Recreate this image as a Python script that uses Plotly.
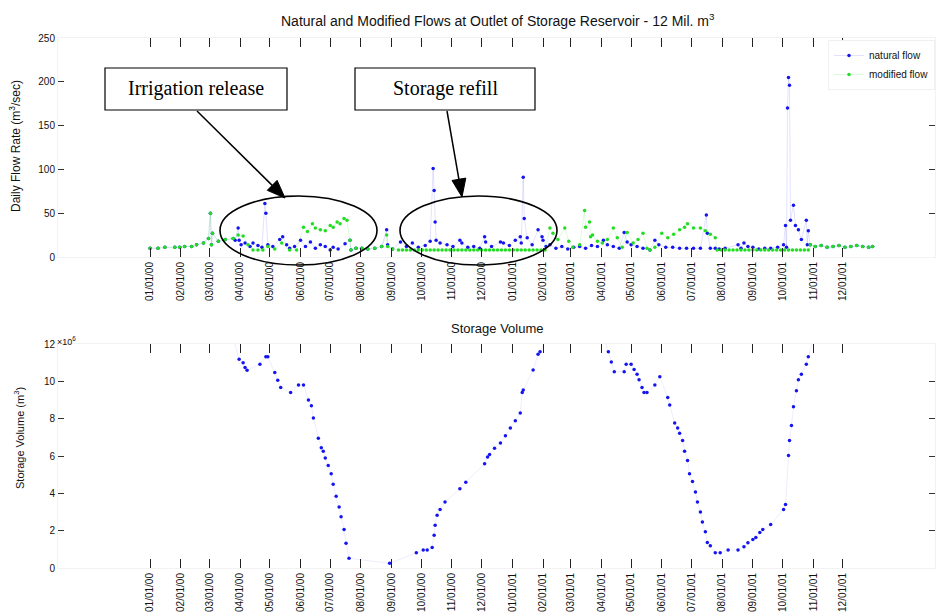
import math
import pandas as pd
import plotly.graph_objects as go

# ---------------- data (day offsets from 2000-01-01) ----------------
base_date = "2000-01-01"

mod_days = [0, 8, 15, 25, 30, 35, 42, 47, 54, 59, 61, 62, 63, 69, 76, 84, 89, 94, 99,
            104, 109, 114, 119, 126, 133, 141, 148, 155, 159, 164, 167, 172, 177, 182,
            185, 189, 192, 196, 199, 202, 203, 208, 214, 220, 227, 234, 239, 240, 245,
            251, 255, 259, 263, 267, 271, 275, 279, 283, 287, 291, 295, 299, 303, 307,
            311, 315, 319, 323, 327, 331, 335, 339, 343, 347, 351, 355, 359, 363, 367,
            371, 375, 379, 383, 387, 391, 395, 399,
            404, 407, 412, 419, 423, 427, 434, 439, 440, 444, 445, 447, 452, 457, 462,
            468, 472, 477, 482, 488, 493, 498, 502, 505, 510, 517, 523, 529, 535, 540,
            543, 549, 556, 561, 566, 571,
            573, 577, 581, 585, 589, 593, 597, 601, 605, 609, 613, 617, 621, 625, 629,
            633, 637, 641, 645, 649, 653, 657, 661, 665,
            667, 672, 678, 684, 690, 696, 702, 708, 714, 720, 726, 730]
mod_flow = [10, 10, 11, 11, 11, 12, 12, 14, 16, 21, 50, 14, 27, 18, 20, 21, 25, 24, 14,
            8, 8, 8, 12, 9, 16, 8, 8, 34, 29, 38, 33, 31, 30, 36,
            34, 40, 38, 44, 42, 19, 8, 10, 10, 9, 10, 12, 25, 12, 9,
            8, 8, 8, 8, 8, 8, 8, 8, 8, 8, 8, 8, 8, 8, 8,
            8, 8, 8, 8, 8, 8, 8, 8, 8, 8, 8, 8, 8, 8, 8,
            8, 8, 8, 8, 8, 8, 8, 8,
            33, 27, 20, 33, 18, 11, 14, 53, 34, 40, 23, 25, 18, 16, 20,
            33, 22, 11, 28, 16, 20, 27, 10, 8, 11, 27, 22, 26, 31, 34,
            38, 33, 33, 30, 26, 22,
            8, 8, 8, 8, 8, 8, 8, 8, 8, 8, 8, 8, 8, 8, 8,
            8, 8, 8, 8, 8, 8, 8, 8, 8,
            14, 12, 13, 11, 12, 13, 11, 12, 13, 12, 11, 12]

nat_days = [0, 8, 15, 25, 30, 35, 42, 47, 54, 59, 61, 62, 63, 69, 76, 84,
            86, 89, 90, 92, 96, 101, 104, 109, 113, 116, 117, 119, 124, 131, 134, 138,
            141, 146, 152, 157, 162, 167, 172, 177, 182, 185, 190, 197, 202,
            203, 208, 214, 220, 227, 234, 239, 240, 245,
            253, 259, 265, 271, 278, 283, 286, 287, 288, 289, 293, 300, 306, 313, 315,
            321, 327, 333, 338, 339, 345, 354, 357, 363, 369, 374, 375, 377, 378, 381,
            386, 392, 396, 397, 400,
            404, 410, 416, 422, 428, 434, 440, 446, 452, 458, 462, 468, 474, 479, 482,
            486, 492, 498, 505, 510, 514, 521, 528, 535, 542, 549, 556, 562, 563, 566, 571,
            575, 581, 594, 597, 600, 604, 609, 615, 621, 627, 634, 640, 642, 643, 644,
            645, 646, 647, 650, 652, 655, 658, 663, 664, 665,
            667, 672, 678, 684, 690, 696, 702, 708, 714, 720, 726, 730]
nat_flow = [10, 10, 11, 11, 11, 12, 12, 14, 16, 21, 50, 14, 27, 18, 20, 21,
            19, 33, 19, 14, 16, 12, 16, 13, 11, 61, 50, 14, 12, 20, 23, 14,
            10, 12, 19, 12, 17, 10, 14, 12, 8, 11, 9, 15, 19,
            8, 10, 10, 9, 10, 12, 31, 14, 9,
            17, 12, 16, 11, 13, 18, 101, 76, 40, 19, 16, 14, 12, 19, 16,
            11, 12, 10, 23, 17, 12, 17, 16, 13, 19, 23, 16, 91, 44, 22,
            14, 31, 23, 19, 12,
            14, 10, 12, 9, 11, 12, 10, 13, 12, 19, 14, 12, 10, 28, 17,
            14, 12, 10, 8, 19, 14, 11, 11, 10, 10, 10, 10, 48, 27, 10, 10,
            9, 10, 14, 10, 16, 12, 11, 9, 10, 10, 11, 14, 36, 11, 170,
            205, 196, 42, 59, 36, 31, 20, 42, 14, 30,
            14, 12, 13, 11, 12, 13, 11, 12, 13, 12, 11, 12]

# storage volume (million m3); values just above 12 are the full reservoir (off-scale)
sto_days = [80, 85, 90, 94, 96, 98, 111, 117, 119, 126, 129, 132, 142, 150, 155, 160,
            163, 165, 170, 173, 175, 177, 180, 183, 185, 188, 191, 193, 196, 198, 201,
            242, 269, 276, 280, 285, 287, 288, 290, 293, 298, 313, 319,
            338, 341, 343, 348, 354, 359, 364, 369, 374, 376, 377, 387, 392, 394, 399,
            429, 460, 463, 466, 469, 479, 481, 486, 489, 492, 494, 497, 499, 502, 510,
            515, 523, 525, 530, 533, 535, 538, 540, 543, 545, 548, 551, 553, 556, 558,
            561, 563, 566, 571, 576, 584, 594, 600, 604, 609, 612, 616, 619, 627, 640,
            642, 645, 646, 648, 650, 653, 655, 658, 663, 665, 669]
sto_vol = [12.1, 12.1, 11.18, 11.0, 10.74, 10.6, 10.92, 11.32, 11.32, 10.47, 10.06, 9.67,
           9.4, 9.81, 9.81, 9.0, 8.69, 8.04, 6.95, 6.44, 6.26, 5.89, 5.49, 5.05, 4.48,
           3.84, 3.27, 2.74, 2.06, 1.32, 0.52, 0.25, 0.82, 0.96, 0.96,
           1.1, 1.76, 2.29, 2.83, 3.13, 3.54, 4.25, 4.6, 5.58, 5.94, 6.08, 6.42, 6.69,
           7.08, 7.5, 7.89, 8.3, 9.4, 9.53, 10.61, 11.45, 11.59, 12.1, 12.1, 12.1, 11.59,
           11.04, 10.51, 10.51, 10.92, 10.92, 10.63, 10.38, 10.08, 9.67, 9.4, 9.4, 9.81,
           10.24, 9.14, 8.73, 7.77, 7.5, 7.22, 6.83, 6.26, 5.76, 5.05, 4.64, 4.07, 3.54,
           3.0, 2.47, 1.94, 1.37, 1.19, 0.82, 0.82, 0.96, 0.96, 1.14, 1.35, 1.53, 1.64,
           1.9, 2.06, 2.33, 3.13, 3.4, 6.03, 6.83, 7.63, 8.64, 9.49, 10.08, 10.38, 10.92,
           11.32, 12.1]

tick_dates = ["2000-01-01", "2000-02-01", "2000-03-01", "2000-04-01", "2000-05-01",
              "2000-06-01", "2000-07-01", "2000-08-01", "2000-09-01", "2000-10-01",
              "2000-11-01", "2000-12-01", "2001-01-01", "2001-02-01", "2001-03-01",
              "2001-04-01", "2001-05-01", "2001-06-01", "2001-07-01", "2001-08-01",
              "2001-09-01", "2001-10-01", "2001-11-01", "2001-12-01"]
tick_labels = ["01/01/00", "02/01/00", "03/01/00", "04/01/00", "05/01/00", "06/01/00",
               "07/01/00", "08/01/00", "09/01/00", "10/01/00", "11/01/00", "12/01/00",
               "01/01/01", "02/01/01", "03/01/01", "04/01/01", "05/01/01", "06/01/01",
               "07/01/01", "08/01/01", "09/01/01", "10/01/01", "11/01/01", "12/01/01"]

flow_ticks = [0, 50, 100, 150, 200, 250]
sto_ticks = [0, 2, 4, 6, 8, 10, 12]


def to_dates(days):
    return pd.Timestamp(base_date) + pd.to_timedelta(days, unit="D")


W, H = 938, 616
def xp(px):
    return px / W
def yp(py):
    return 1 - py / H

BLUE = "#1414f0"
GREEN = "#22dd22"

fig = go.Figure()
fig.add_trace(go.Scatter(x=to_dates(nat_days), y=nat_flow, mode="lines+markers",
                         name="natural flow",
                         line=dict(color="rgba(20,20,240,0.12)", width=1),
                         marker=dict(color=BLUE, size=3.5),
                         xaxis="x", yaxis="y"))
fig.add_trace(go.Scatter(x=to_dates(mod_days), y=mod_flow, mode="lines+markers",
                         name="modified flow",
                         line=dict(color="rgba(30,220,30,0.15)", width=1),
                         marker=dict(color=GREEN, size=3.5),
                         xaxis="x", yaxis="y"))
fig.add_trace(go.Scatter(x=to_dates(sto_days), y=sto_vol, mode="lines+markers",
                         showlegend=False,
                         line=dict(color="rgba(20,20,240,0.08)", width=1),
                         marker=dict(color=BLUE, size=3.5),
                         xaxis="x2", yaxis="y2"))

xrange = ["1999-09-30", "2002-03-04"]
common_x = dict(type="date", range=xrange, tickvals=tick_dates, ticktext=tick_labels,
                tickangle=-90, ticks="inside", ticklen=9, tickcolor="#222",
                showline=True, linecolor="#f2f2f2", mirror="ticks", showgrid=False,
                zeroline=False, automargin=False,
                tickfont=dict(family="Liberation Sans", size=10, color="#111"))
common_y = dict(ticks="inside", ticklen=6, tickcolor="#333", showline=True,
                linecolor="#f2f2f2", mirror="ticks", showgrid=False, zeroline=False,
                automargin=False,
                tickfont=dict(family="Liberation Sans", size=10, color="#111"))

fig.update_layout(
    width=W, height=H, margin=dict(l=0, r=0, t=0, b=0),
    paper_bgcolor="white", plot_bgcolor="white",
    xaxis=dict(domain=[xp(58), xp(935)], anchor="y", **common_x),
    yaxis=dict(domain=[yp(257), yp(38)], anchor="x", range=[0, 250],
               tickvals=flow_ticks, **common_y),
    xaxis2=dict(domain=[xp(58), xp(935)], anchor="y2", **common_x),
    yaxis2=dict(domain=[yp(568), yp(344)], anchor="x2", range=[0, 12],
                tickvals=sto_ticks, **common_y),
    showlegend=True,
    legend=dict(x=xp(935), xanchor="right", y=yp(40), yanchor="top",
                bgcolor="white", bordercolor="#f0f0f0", borderwidth=1,
                font=dict(family="Liberation Sans", size=10, color="#111"),
                tracegroupgap=0, itemwidth=30),
)


def label(text, x, y, size, family="Liberation Sans", angle=0, xanchor="center",
          color="#111"):
    return dict(text=text, x=xp(x), y=yp(y), xref="paper", yref="paper",
                showarrow=False, xanchor=xanchor, yanchor="middle", textangle=angle,
                font=dict(family=family, size=size, color=color))


anns = [
    label("Natural and Modified Flows at Outlet of Storage Reservoir - 12 Mil. m<sup>3</sup>",
          498, 20, 14),
    label("Storage Volume", 498, 328, 13),
    label("Daily Flow Rate (m<sup>3</sup>/sec)", 15, 146, 12, angle=-90),
    label("Storage Volume (m<sup>3</sup>)", 19, 438, 11, angle=-90),
    label("×10<sup>6</sup>", 55, 341, 9, xanchor="left"),
    label("Irrigation release", 196, 89, 20, family="Liberation Serif", color="black"),
    label("Storage refill", 445, 89, 20, family="Liberation Serif", color="black"),
]
fig.update_layout(annotations=anns)

shapes = [
    dict(type="rect", xref="paper", yref="paper", x0=xp(105), x1=xp(287), y0=yp(110),
         y1=yp(68), line=dict(color="black", width=1.2), fillcolor="white", layer="below"),
    dict(type="rect", xref="paper", yref="paper", x0=xp(355), x1=xp(535), y0=yp(110),
         y1=yp(68), line=dict(color="black", width=1.2), fillcolor="white", layer="below"),
    dict(type="circle", xref="paper", yref="paper", x0=xp(220), x1=xp(377), y0=yp(265),
         y1=yp(196), line=dict(color="black", width=1.6)),
    dict(type="circle", xref="paper", yref="paper", x0=xp(400), x1=xp(557), y0=yp(265),
         y1=yp(196), line=dict(color="black", width=1.6)),
]


def arrow(tail, tip, head_len=18, head_half=7):
    dx, dy = tip[0] - tail[0], tip[1] - tail[1]
    n = math.hypot(dx, dy)
    ux, uy = dx / n, dy / n
    bx, by = tip[0] - head_len * ux, tip[1] - head_len * uy
    px_, py_ = -uy, ux
    c1 = (bx + head_half * px_, by + head_half * py_)
    c2 = (bx - head_half * px_, by - head_half * py_)
    line = dict(type="line", xref="paper", yref="paper", x0=xp(tail[0]), y0=yp(tail[1]),
                x1=xp(bx), y1=yp(by), line=dict(color="black", width=1.5))
    path = "M {} {} L {} {} L {} {} Z".format(xp(tip[0]), yp(tip[1]), xp(c1[0]), yp(c1[1]),
                                              xp(c2[0]), yp(c2[1]))
    head = dict(type="path", xref="paper", yref="paper", path=path, fillcolor="black",
                line=dict(color="black", width=1))
    return [line, head]


shapes += arrow((197, 111), (285, 198))
shapes += arrow((447, 111), (462, 197))
fig.update_layout(shapes=shapes)

fig.write_html("out.html")
